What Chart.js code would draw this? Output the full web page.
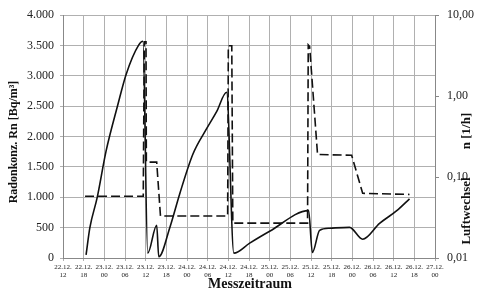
<!DOCTYPE html>
<html>
<head>
<meta charset="utf-8">
<script src="https://cdn.jsdelivr.net/npm/chart.js@4/dist/chart.umd.min.js"></script>
<style>
  html, body { margin: 0; padding: 0; background: #fff; }
  #wrap { width: 480px; height: 293px; }
</style>
</head>
<body>
<div id="wrap"><canvas id="c" width="480" height="293"></canvas></div>
<script>
// ---- data (hours after 22.12. 12:00) ----
const xTickLabels = [
  ['22.12.','12'],['22.12.','18'],['23.12.','00'],['23.12.','06'],['23.12.','12'],['23.12.','18'],
  ['24.12.','00'],['24.12.','06'],['24.12.','12'],['24.12.','18'],['25.12.','00'],['25.12.','06'],
  ['25.12.','12'],['25.12.','18'],['26.12.','00'],['26.12.','06'],['26.12.','12'],['26.12.','18'],
  ['27.12.','00']
];
const radonTickLabels = ['0','500','1.000','1.500','2.000','2.500','3.000','3.500','4.000'];
const aerTickValues = [0.01, 0.1, 1, 10];
const aerTickLabels = ['0,01','0,10','1,00','10,00'];

// Radonkonzentration Rn [Bq/m³]
const radonHours  = [6.7, 7.8, 9.9, 12.5, 15.9, 18.3, 22.0, 23.2, 24.6, 27.2, 27.8, 31.0, 33.9, 37.7, 41.7, 44.6, 47.5, 49.6, 54.2, 60.0, 71.3, 72.4, 74.5, 77.4, 83.2, 87.0, 91.9, 96.9, 100.6];
const radonValues = [50, 500, 990, 1760, 2520, 3020, 3510, 3570, 80, 540, 20, 500, 1060, 1710, 2130, 2410, 2730, 80, 245, 440, 780, 90, 455, 490, 505, 310, 570, 780, 975];

// Luftwechsel n [1/h]
const aerHours  = [6.4, 23.3, 23.6, 24.1, 24.2, 27.2, 28.3, 47.8, 48.0, 49.0, 49.3, 71.0, 71.2, 71.6, 73.9, 83.8, 87.0, 100.6];
const aerValues = [0.058, 0.058, 4.7, 4.7, 0.153, 0.153, 0.033, 0.033, 4.2, 4.2, 0.027, 0.027, 4.3, 4.1, 0.19, 0.186, 0.063, 0.061];

const radonData = radonHours.map((h, i) => ({ x: h, y: radonValues[i] }));
const aerData = aerHours.map((h, i) => ({ x: h, y: aerValues[i] }));

const SERIF = "'Liberation Serif', 'DejaVu Serif', serif";

const titlePlugin = {
  id: 'titles',
  afterDraw(chart) {
    const ctx = chart.ctx;
    ctx.save();
    ctx.fillStyle = '#111';
    ctx.textAlign = 'center';
    ctx.textBaseline = 'middle';
    ctx.font = 'bold 12px ' + SERIF;
    ctx.save();
    ctx.translate(14, 142);
    ctx.rotate(-Math.PI / 2);
    ctx.fillText('Radonkonz. Rn [Bq/m³]', 0, 0);
    ctx.restore();
    ctx.font = 'bold 13px ' + SERIF;
    ctx.save();
    ctx.translate(467, 211);
    ctx.rotate(-Math.PI / 2);
    ctx.fillText('Luftwechsel', 0, 0);
    ctx.restore();
    ctx.save();
    ctx.translate(467, 131);
    ctx.rotate(-Math.PI / 2);
    ctx.fillText('n [1/h]', 0, 0);
    ctx.restore();
    ctx.font = 'bold 14px ' + SERIF;
    ctx.fillText('Messzeitraum', 250, 284);
    ctx.restore();
  }
};

new Chart(document.getElementById('c'), {
  type: 'line',
  data: {
    datasets: [
      {
        label: 'Rn',
        data: radonData,
        yAxisID: 'y',
        borderColor: '#111',
        borderWidth: 1.6,
        pointRadius: 0,
        fill: false,
        cubicInterpolationMode: 'monotone'
      },
      {
        label: 'n',
        data: aerData,
        yAxisID: 'y2',
        borderColor: '#111',
        borderWidth: 1.6,
        borderDash: [9, 4],
        pointRadius: 0,
        fill: false,
        tension: 0
      }
    ]
  },
  options: {
    responsive: false,
    animation: false,
    devicePixelRatio: 1,
    layout: { padding: { top: 10, left: 0, right: 0, bottom: 0 } },
    plugins: { legend: { display: false }, tooltip: { enabled: false } },
    scales: {
      x: {
        type: 'linear',
        min: 0,
        max: 108,
        afterFit(s) { s.height = 35; },
        afterBuildTicks(s) { s.ticks = xTickLabels.map((_, i) => ({ value: i * 6 })); },
        ticks: {
          autoSkip: false,
          maxRotation: 0,
          padding: 2,
          color: '#222',
          font: { family: SERIF, size: 7, lineHeight: 1.15 },
          callback: (v) => xTickLabels[Math.round(v / 6)]
        },
        grid: { color: '#b0b0b0', lineWidth: 1, tickLength: 3 },
        border: { color: '#888', width: 1 }
      },
      y: {
        type: 'linear',
        position: 'left',
        min: 0,
        max: 4000,
        afterFit(s) { s.width = 63; },
        afterBuildTicks(s) { s.ticks = radonTickLabels.map((_, i) => ({ value: i * 500 })); },
        ticks: {
          padding: 6,
          color: '#222',
          font: { family: SERIF, size: 12 },
          callback: (v) => radonTickLabels[Math.round(v / 500)]
        },
        grid: { color: '#b0b0b0', lineWidth: 1, tickLength: 3 },
        border: { color: '#888', width: 1 }
      },
      y2: {
        type: 'logarithmic',
        position: 'right',
        min: 0.01,
        max: 10,
        afterFit(s) { s.width = 45; },
        afterBuildTicks(s) { s.ticks = aerTickValues.map(v => ({ value: v })); },
        ticks: {
          padding: 8,
          color: '#222',
          font: { family: SERIF, size: 12 },
          callback: (v) => {
            const i = aerTickValues.findIndex(t => Math.abs(t - v) / t < 1e-6);
            return i >= 0 ? aerTickLabels[i] : '';
          }
        },
        grid: { drawOnChartArea: false, color: '#888', tickLength: 4 },
        border: { color: '#888', width: 1 }
      }
    }
  },
  plugins: [titlePlugin]
});
</script>
</body>
</html>
